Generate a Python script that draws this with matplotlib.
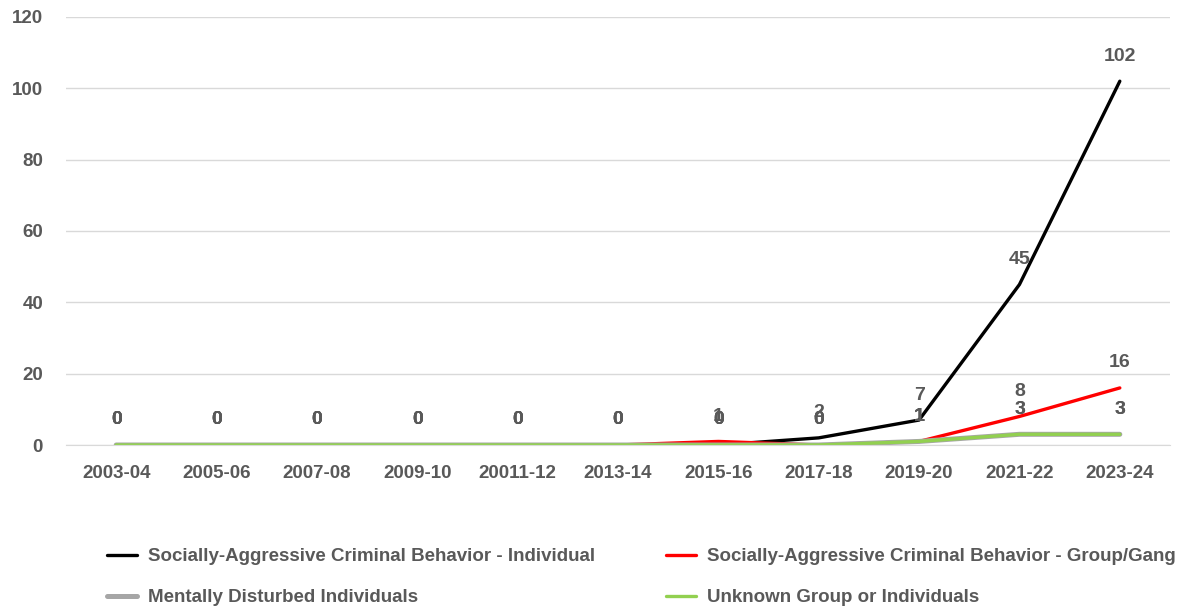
import matplotlib
matplotlib.use("Agg")
import matplotlib.pyplot as plt

plt.rcParams['font.family'] = 'Liberation Sans'
plt.rcParams['font.weight'] = 'bold'

periods = ["2003-04", "2005-06", "2007-08", "2009-10", "20011-12", "2013-14",
           "2015-16", "2017-18", "2019-20", "2021-22", "2023-24"]
individual = [0, 0, 0, 0, 0, 0, 0, 2, 7, 45, 102]
group_gang = [0, 0, 0, 0, 0, 0, 1, 0, 1, 8, 16]
mentally_disturbed = [0, 0, 0, 0, 0, 0, 0, 0, 1, 3, 3]
unknown = [0, 0, 0, 0, 0, 0, 0, 0, 1, 3, 3]

series = [
    ("Socially-Aggressive Criminal Behavior - Individual", individual, "#000000", 2.4),
    ("Socially-Aggressive Criminal Behavior - Group/Gang", group_gang, "#ff0000", 2.4),
    ("Mentally Disturbed Individuals", mentally_disturbed, "#a6a6a6", 3.6),
    ("Unknown Group or Individuals", unknown, "#92d050", 2.4),
]

text_color = "#595959"
fig = plt.figure(figsize=(11.78, 6.11), dpi=100)
ax = fig.add_axes([66 / 1178, 1 - 445 / 611, (1170 - 66) / 1178, (445 - 17) / 611])

x = list(range(len(periods)))
handles = []
for label, vals, color, lw in series:
    h, = ax.plot(x, vals, color=color, lw=lw, solid_capstyle="round",
                 solid_joinstyle="round", label=label)
    handles.append(h)
    for xi, v in zip(x, vals):
        ax.annotate(str(v), (xi, v), xytext=(0, 25), textcoords="offset pixels",
                    ha="center", va="center", fontsize=14, fontweight="bold",
                    color=text_color)

ax.set_xlim(-0.5, len(periods) - 0.5)
ax.set_ylim(0, 120)
ax.set_yticks(range(0, 121, 20))
ax.set_xticks(x)
ax.set_xticklabels(periods)
ax.grid(axis="y", color="#d9d9d9", lw=1)
ax.set_axisbelow(True)
for s in ["top", "right", "left"]:
    ax.spines[s].set_visible(False)
ax.spines["bottom"].set_color("#d9d9d9")
ax.tick_params(axis="both", length=0, labelsize=13.5, labelcolor=text_color)
ax.tick_params(axis="x", pad=14.5)
ax.tick_params(axis="y", pad=16.5)

# row-major order: matplotlib fills legend columns first
order = [0, 2, 1, 3]
leg = fig.legend(handles=[handles[i] for i in order], loc="upper left",
                 bbox_to_anchor=(107 / 1178, 1 - 548 / 611),
                 ncol=2, frameon=False, fontsize=13.5, handlelength=1.6,
                 handletextpad=0.58, columnspacing=3.8, labelspacing=1.27,
                 borderaxespad=0, borderpad=0)
for t in leg.get_texts():
    t.set_color(text_color)

fig.savefig("out.png", dpi=100)
